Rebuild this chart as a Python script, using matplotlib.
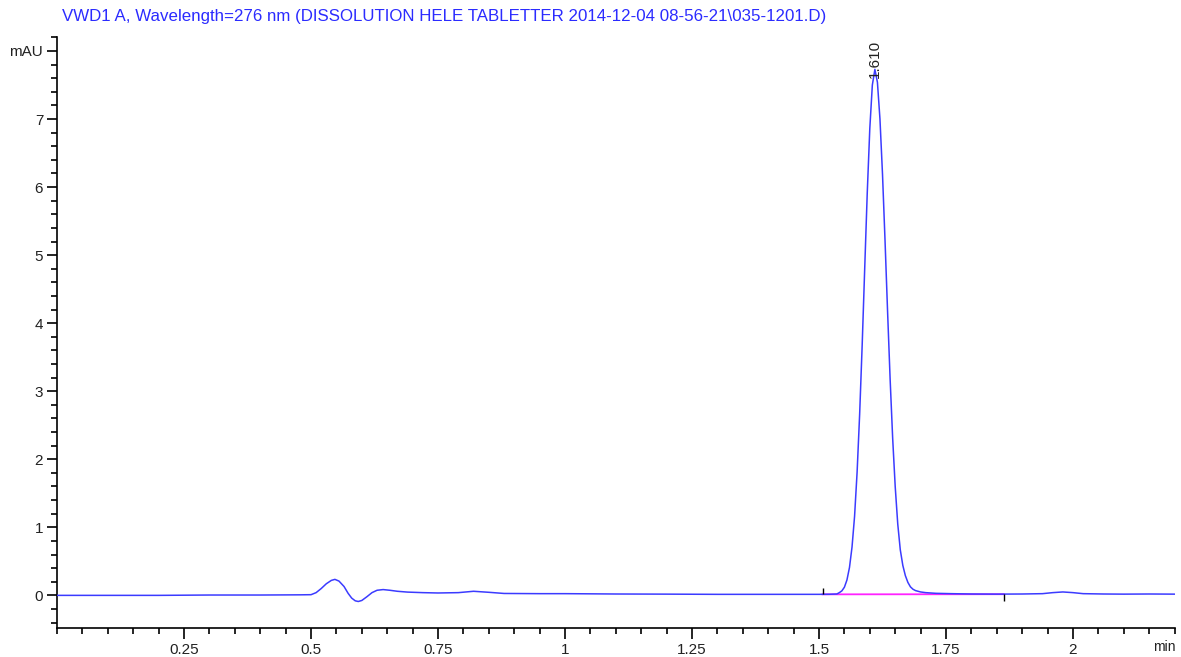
import matplotlib
matplotlib.use("Agg")
import matplotlib.pyplot as plt
from matplotlib.ticker import MultipleLocator, FixedLocator

# signal (time in min, absorbance in mAU)
time_min = [0.00, 0.10, 0.20, 0.30, 0.40, 0.48, 0.50, 0.51, 0.52, 0.53, 0.54, 0.547,
            0.555, 0.565, 0.573, 0.58, 0.587, 0.593, 0.60, 0.61, 0.62, 0.63, 0.642,
            0.655, 0.67, 0.69, 0.72, 0.75, 0.79, 0.82, 0.85, 0.88, 0.95, 1.00, 1.10,
            1.20, 1.30, 1.40, 1.50, 1.52, 1.535,
            1.540, 1.545, 1.550, 1.555, 1.560, 1.565, 1.570, 1.575, 1.580, 1.585,
            1.590, 1.595, 1.600, 1.605, 1.610, 1.615, 1.620, 1.625, 1.630, 1.635,
            1.640, 1.645, 1.650, 1.655, 1.660, 1.665, 1.670, 1.675, 1.680, 1.685,
            1.690, 1.70, 1.71, 1.73, 1.76, 1.80, 1.85, 1.90, 1.94, 1.96, 1.98,
            2.00, 2.02, 2.06, 2.10, 2.15, 2.20]
signal_mau = [0.00, 0.00, 0.00, 0.005, 0.005, 0.008, 0.01, 0.04, 0.10, 0.17, 0.22, 0.235,
              0.21, 0.13, 0.03, -0.04, -0.08, -0.09, -0.075, -0.02, 0.04, 0.075, 0.085,
              0.075, 0.06, 0.048, 0.04, 0.035, 0.04, 0.06, 0.045, 0.028, 0.025, 0.025, 0.02,
              0.018, 0.015, 0.015, 0.015, 0.016, 0.02,
              0.04, 0.066, 0.12, 0.226, 0.41, 0.71, 1.16, 1.81, 2.66, 3.68,
              4.81, 5.92, 6.86, 7.50, 7.73, 7.54, 7.00, 6.19, 5.21, 4.17,
              3.18, 2.31, 1.60, 1.05, 0.67, 0.44, 0.29, 0.19, 0.125, 0.09,
              0.07, 0.05, 0.04, 0.03, 0.025, 0.02, 0.018, 0.02, 0.025, 0.04, 0.05,
              0.04, 0.025, 0.02, 0.018, 0.02, 0.018]

# integration baseline of the peak
base_time = [1.507, 1.864]
base_mau = [0.015, 0.017]

peak_rt = 1.610
peak_height = 7.73

title = "VWD1 A, Wavelength=276 nm (DISSOLUTION HELE TABLETTER 2014-12-04 08-56-21\\035-1201.D)"
x_ticks = [0.25, 0.5, 0.75, 1, 1.25, 1.5, 1.75, 2]
x_labels = ["0.25", "0.5", "0.75", "1", "1.25", "1.5", "1.75", "2"]
y_ticks = [0, 1, 2, 3, 4, 5, 6, 7, 8]
y_labels = ["0", "1", "2", "3", "4", "5", "6", "7", "mAU"]

plt.rcParams['font.family'] = ['Liberation Sans', 'DejaVu Sans']

fig = plt.figure(figsize=(11.81, 6.57), dpi=100)
ax = fig.add_axes([0.0483, 0.0441, 0.9467, 0.899])

ax.plot(time_min, signal_mau, color='#3b3bff', lw=1.1, zorder=3)
ax.plot(base_time, base_mau, color='#ff22ff', lw=1.3, zorder=2)
# start / end marks of the integration
ax.vlines(base_time[0], base_mau[0], base_mau[0] + 0.1, color='black', lw=1.0, zorder=4)
ax.vlines(base_time[1], base_mau[1] - 0.1, base_mau[1], color='black', lw=1.0, zorder=4)

ax.text(peak_rt, peak_height - 0.12, f"{peak_rt:.3f}", rotation=90, ha='center', va='bottom',
        fontsize=11, color='#222222', zorder=5)

ax.set_xlim(0, 2.201)
ax.set_ylim(-0.48, 8.2)

for side in ['top', 'right']:
    ax.spines[side].set_visible(False)
for side in ['left', 'bottom']:
    ax.spines[side].set_linewidth(1.2)

ax.set_xticks(x_ticks)
ax.set_xticklabels(x_labels)
ax.xaxis.set_minor_locator(MultipleLocator(0.05))
ax.set_yticks(y_ticks)
ax.set_yticklabels(y_labels)
ax.yaxis.set_minor_locator(FixedLocator([v / 10 for v in range(-4, 83, 2)]))

ax.tick_params(axis='both', which='major', direction='out', length=8, width=1.2,
               labelsize=11, labelcolor='#222222')
ax.tick_params(axis='both', which='minor', direction='out', length=4, width=1.2)
ax.tick_params(axis='y', which='major', length=7, pad=3)
ax.tick_params(axis='x', which='major', pad=3)

fig.text(1176 / 1181, 1 - 647 / 657, "min", ha='right', va='center',
         fontsize=10, color='#222222')

fig.text(62 / 1181, 1 - 16 / 657, title, ha='left', va='center', fontsize=12.2, color='#2b2bff')

fig.savefig("out.png", dpi=100)
